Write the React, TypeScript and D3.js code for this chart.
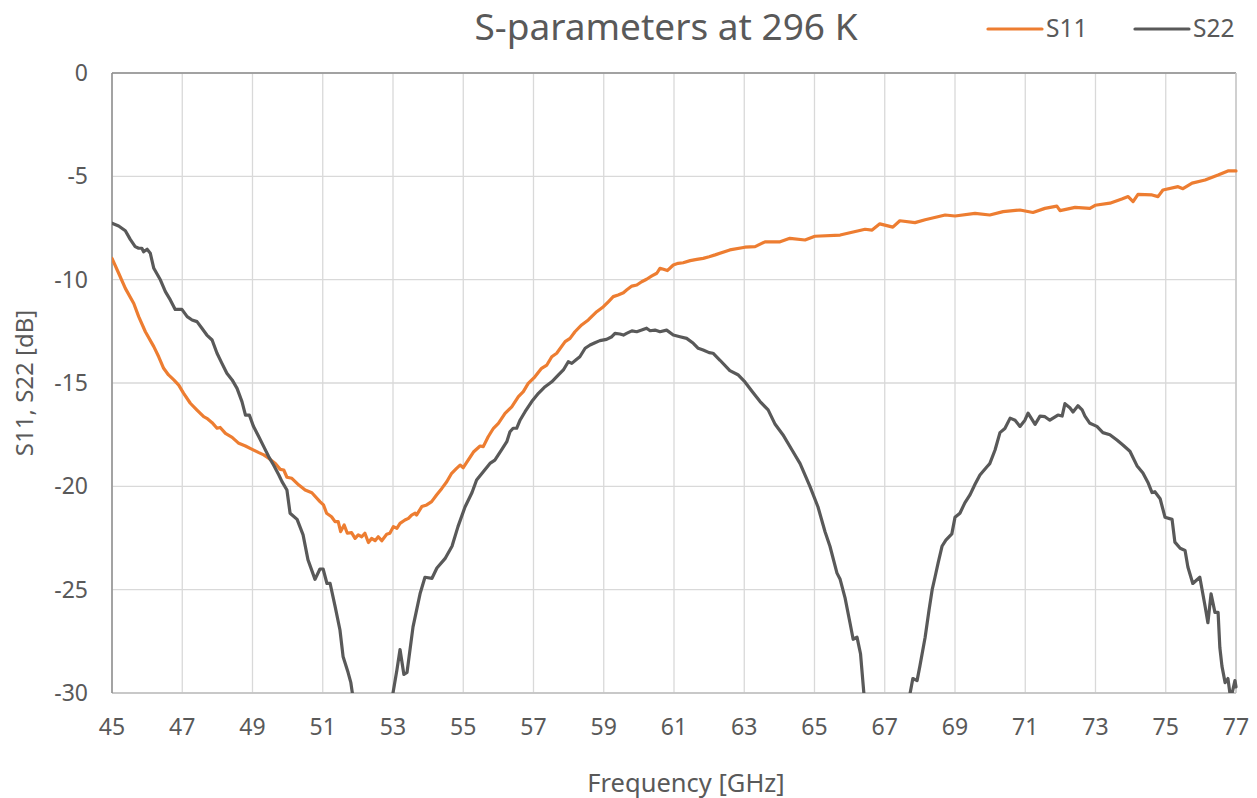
import React from "react";
import * as d3 from "d3";

const s11Freq = [45.00,45.19,45.38,45.62,45.76,45.95,46.19,46.33,46.47,46.61,46.76,46.90,47.04,47.23,47.42,47.61,47.70,47.85,47.99,48.08,48.23,48.42,48.61,48.80,48.99,49.18,49.32,49.46,49.65,49.79,49.89,49.98,50.12,50.32,50.50,50.69,50.92,51.02,51.11,51.25,51.35,51.44,51.51,51.61,51.70,51.82,51.92,52.01,52.11,52.20,52.30,52.39,52.49,52.58,52.68,52.82,52.91,53.01,53.11,53.20,53.34,53.44,53.53,53.63,53.67,53.82,53.96,54.10,54.24,54.39,54.53,54.67,54.81,54.91,55.00,55.14,55.29,55.48,55.57,55.71,55.86,56.00,56.19,56.38,56.57,56.71,56.85,57.04,57.23,57.38,57.52,57.66,57.90,58.04,58.18,58.37,58.56,58.80,58.99,59.13,59.27,59.41,59.56,59.65,59.80,59.94,60.08,60.22,60.37,60.51,60.60,60.70,60.81,60.98,61.12,61.26,61.46,61.65,61.83,62.00,62.17,62.59,63.02,63.31,63.59,64.02,64.30,64.73,65.01,65.73,66.44,66.64,66.86,67.23,67.43,67.86,68.15,68.72,69.00,69.57,69.99,70.37,70.85,71.22,71.56,71.90,71.99,72.42,72.84,72.99,73.41,73.75,73.93,74.07,74.21,74.61,74.78,74.92,75.35,75.49,75.75,76.12,76.49,76.77,77.00];
const s11Values = [-8.97,-9.69,-10.42,-11.15,-11.79,-12.52,-13.24,-13.73,-14.29,-14.61,-14.85,-15.1,-15.5,-15.98,-16.31,-16.63,-16.71,-16.92,-17.19,-17.15,-17.44,-17.63,-17.92,-18.05,-18.21,-18.37,-18.48,-18.64,-18.89,-19.18,-19.21,-19.56,-19.61,-19.94,-20.18,-20.31,-20.74,-20.9,-21.3,-21.47,-21.71,-21.71,-22.19,-21.87,-22.27,-22.24,-22.52,-22.35,-22.44,-22.27,-22.72,-22.52,-22.63,-22.44,-22.63,-22.32,-22.27,-21.95,-22.03,-21.79,-21.63,-21.55,-21.39,-21.3,-21.39,-20.98,-20.9,-20.74,-20.42,-20.1,-19.78,-19.37,-19.13,-18.97,-19.1,-18.73,-18.34,-18.05,-18.08,-17.6,-17.19,-16.95,-16.47,-16.15,-15.66,-15.42,-15.02,-14.7,-14.29,-14.13,-13.73,-13.56,-13.0,-12.84,-12.52,-12.19,-11.95,-11.55,-11.31,-11.07,-10.82,-10.74,-10.63,-10.5,-10.31,-10.26,-10.1,-9.98,-9.82,-9.69,-9.45,-9.5,-9.56,-9.29,-9.21,-9.18,-9.08,-9.02,-8.97,-8.89,-8.8,-8.56,-8.43,-8.4,-8.17,-8.17,-8.0,-8.08,-7.9,-7.84,-7.56,-7.6,-7.3,-7.46,-7.15,-7.24,-7.1,-6.87,-6.92,-6.79,-6.87,-6.71,-6.63,-6.75,-6.55,-6.44,-6.66,-6.5,-6.55,-6.4,-6.3,-6.1,-5.98,-6.22,-5.87,-5.9,-5.98,-5.66,-5.5,-5.6,-5.33,-5.18,-4.94,-4.74,-4.74];

const s22Freq = [45.00,45.19,45.38,45.52,45.66,45.76,45.85,45.90,46.00,46.09,46.19,46.38,46.52,46.66,46.80,46.99,47.14,47.28,47.42,47.56,47.70,47.85,47.99,48.13,48.27,48.42,48.56,48.70,48.80,48.91,49.03,49.18,49.32,49.46,49.60,49.75,49.84,49.98,50.07,50.27,50.44,50.58,50.78,50.92,51.01,51.12,51.21,51.35,51.49,51.58,51.72,51.80,51.86,52.2,52.5,52.8,52.97,53.11,53.20,53.31,53.40,53.57,53.77,53.91,54.11,54.25,54.48,54.68,54.85,55.05,55.25,55.38,55.57,55.76,55.90,56.09,56.24,56.33,56.42,56.52,56.62,56.76,56.95,57.14,57.33,57.52,57.71,57.85,57.99,58.09,58.23,58.32,58.47,58.61,58.75,58.89,59.08,59.23,59.32,59.46,59.56,59.65,59.80,59.94,60.08,60.22,60.32,60.46,60.60,60.79,60.98,61.17,61.36,61.55,61.69,61.83,62.00,62.11,62.31,62.59,62.82,63.02,63.22,63.45,63.68,63.88,64.10,64.36,64.59,64.87,65.10,65.30,65.44,65.64,65.73,65.87,66.01,66.10,66.21,66.31,66.42,66.8,67.2,67.5,67.69,67.80,67.92,68.00,68.15,68.26,68.35,68.43,68.52,68.63,68.74,68.91,69.00,69.14,69.28,69.43,69.57,69.71,69.91,69.99,70.14,70.28,70.42,70.57,70.71,70.85,70.99,71.08,71.28,71.42,71.56,71.70,71.93,72.05,72.13,72.27,72.36,72.50,72.62,72.70,72.84,73.04,73.21,73.41,73.61,73.78,73.98,74.18,74.35,74.49,74.61,74.69,74.84,74.98,75.18,75.26,75.41,75.55,75.63,75.77,75.97,76.12,76.20,76.29,76.40,76.49,76.54,76.60,76.69,76.77,76.85,76.97,77.00];
const s22Values = [-7.27,-7.4,-7.63,-8.05,-8.4,-8.48,-8.48,-8.65,-8.53,-8.72,-9.45,-10.02,-10.58,-10.98,-11.44,-11.44,-11.79,-11.95,-12.03,-12.35,-12.68,-12.92,-13.56,-14.05,-14.53,-14.85,-15.26,-15.9,-16.55,-16.55,-17.11,-17.6,-18.08,-18.56,-18.97,-19.45,-19.77,-20.18,-21.3,-21.6,-22.35,-23.56,-24.5,-24.0,-24.0,-24.7,-24.7,-25.8,-26.95,-28.25,-29.0,-29.5,-30.2,-33,-35,-33,-30.3,-28.9,-27.9,-29.1,-29.0,-26.8,-25.2,-24.4,-24.45,-23.95,-23.5,-22.9,-21.95,-21.0,-20.3,-19.69,-19.29,-18.89,-18.73,-18.24,-17.84,-17.36,-17.19,-17.19,-16.79,-16.39,-15.9,-15.5,-15.18,-14.94,-14.61,-14.37,-13.97,-14.05,-13.85,-13.73,-13.32,-13.16,-13.05,-12.95,-12.89,-12.76,-12.6,-12.63,-12.68,-12.6,-12.48,-12.52,-12.44,-12.35,-12.47,-12.44,-12.52,-12.44,-12.68,-12.76,-12.84,-13.08,-13.32,-13.4,-13.53,-13.56,-13.9,-14.4,-14.6,-14.95,-15.4,-15.9,-16.3,-17.0,-17.5,-18.24,-18.9,-20.0,-21.0,-22.2,-22.9,-24.2,-24.5,-25.4,-26.6,-27.4,-27.3,-28.1,-30.3,-33,-34,-32,-30.3,-29.3,-29.4,-28.7,-27.3,-26.0,-25.0,-24.4,-23.7,-22.9,-22.6,-22.3,-21.5,-21.3,-20.8,-20.4,-19.9,-19.45,-19.05,-18.9,-18.24,-17.4,-17.2,-16.7,-16.8,-17.1,-16.8,-16.46,-17.0,-16.6,-16.63,-16.8,-16.55,-16.6,-16.0,-16.2,-16.4,-16.1,-16.3,-16.6,-16.95,-17.1,-17.4,-17.5,-17.76,-18.0,-18.3,-19.0,-19.35,-19.8,-20.3,-20.26,-20.6,-21.5,-21.6,-22.7,-23.0,-23.1,-23.9,-24.7,-24.4,-25.8,-26.6,-25.2,-26.1,-26.1,-27.8,-28.7,-29.5,-29.3,-30.3,-29.4,-29.7];

const xTicks = [45,47,49,51,53,55,57,59,61,63,65,67,69,71,73,75,77];
const yTicks = [0,-5,-10,-15,-20,-25,-30];
const seriesNames = ["S11", "S22"];
const seriesColors = ["#ED7D31", "#595959"];
const titleText = "S-parameters at 296 K";
const xTitle = "Frequency [GHz]";
const yTitle = "S11, S22 [dB]";

const W = 1257, H = 798;
const M = { left: 112, right: 1236, top: 73, bottom: 693 };
const FONT = "'Noto Sans', 'Open Sans', sans-serif";
const TXT = "#595959";

export default function App() {
  const x = d3.scaleLinear().domain([45, 77]).range([M.left, M.right]);
  const y = d3.scaleLinear().domain([-30, 0]).range([M.bottom, M.top]);
  const line = d3.line<[number, number]>().x(d => x(d[0])).y(d => y(d[1]));
  const n11 = Math.min(s11Freq.length, s11Values.length);
  const n22 = Math.min(s22Freq.length, s22Values.length);
  const s11 = s11Freq.slice(0, n11).map((f, i) => [f, s11Values[i]] as [number, number]);
  const s22 = s22Freq.slice(0, n22).map((f, i) => [f, s22Values[i]] as [number, number]);
  const data = [s11, s22];

  return (
    <svg width={W} height={H} style={{ position: "absolute", left: 0, top: 0, background: "#fff" }} fontFamily={FONT}>
      <defs>
        <clipPath id="plot">
          <rect x={M.left} y={M.top - 2} width={M.right - M.left + 2} height={M.bottom - M.top + 2} />
        </clipPath>
      </defs>
      <rect width={W} height={H} fill="#fff" />
      {xTicks.map(t => (
        <line key={"gx" + t} x1={x(t)} x2={x(t)} y1={M.top} y2={M.bottom} stroke="#d9d9d9" strokeWidth={1.3} />
      ))}
      {yTicks.map(t => (
        <line key={"gy" + t} x1={M.left} x2={M.right} y1={y(t)} y2={y(t)} stroke="#d9d9d9" strokeWidth={1.3} />
      ))}
      <line x1={M.left} x2={M.right} y1={M.top} y2={M.top} stroke="#8c8c8c" strokeWidth={1.5} />
      <line x1={M.right} x2={M.right} y1={M.top} y2={M.bottom} stroke="#c8c8c8" strokeWidth={1.5} />
      <line x1={M.left} x2={M.right} y1={M.bottom} y2={M.bottom} stroke="#bfbfbf" strokeWidth={1.5} />
      <line x1={M.left} x2={M.left} y1={M.top} y2={M.bottom} stroke="#8c8c8c" strokeWidth={1.5} />
      <g clipPath="url(#plot)">
        {data.map((d, i) => (
          <path key={i} d={line(d) || ""} fill="none" stroke={seriesColors[i]} strokeWidth={3.2} strokeLinejoin="round" strokeLinecap="round" />
        ))}
      </g>
      {yTicks.map(t => (
        <text key={"ty" + t} x={88} y={y(t)} dy="0.35em" textAnchor="end" fontSize={23} fill={TXT}>{t}</text>
      ))}
      {xTicks.map(t => (
        <text key={"tx" + t} x={x(t)} y={735} textAnchor="middle" fontSize={23} fill={TXT}>{t}</text>
      ))}
      <text x={666} y={40} textAnchor="middle" fontSize={37} fill={TXT}>{titleText}</text>
      <text x={686} y={792} textAnchor="middle" fontSize={25.5} fill={TXT}>{xTitle}</text>
      <text transform={`translate(33, ${(M.top + M.bottom) / 2}) rotate(-90)`} textAnchor="middle" fontSize={24} fill={TXT}>{yTitle}</text>
      {seriesNames.map((n, i) => {
        const lx = [988, 1135][i];
        return (
          <g key={n}>
            <line x1={lx} x2={lx + 54} y1={29} y2={29} stroke={seriesColors[i]} strokeWidth={3.2} strokeLinecap="round" />
            <text x={lx + 58} y={37} fontSize={24.5} fill={TXT}>{n}</text>
          </g>
        );
      })}
    </svg>
  );
}
